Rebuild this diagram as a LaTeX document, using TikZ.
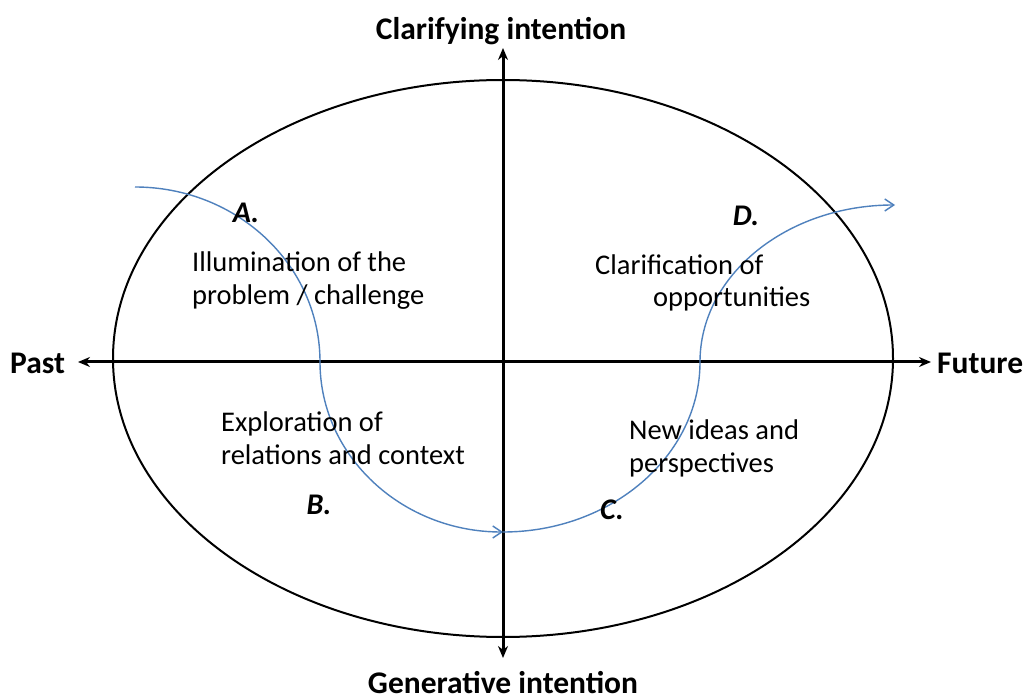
\documentclass[tikz,border=0pt]{standalone}
\usepackage{fontspec}
\setmainfont{Carlito}
\usetikzlibrary{arrows.meta,shapes.geometric}
\begin{document}
\begin{tikzpicture}[x=1pt,y=-1pt,
  axis/.style={line width=3pt,-{Stealth[length=12pt,width=10pt]}},
  flow/.style={draw={rgb,255:red,79;green,129;blue,189},line width=1.4pt,-{Straight Barb[length=9pt,width=12pt,line width=1.4pt]}},
  axlabel/.style={font=\fontsize{31.5}{36}\selectfont\bfseries,inner sep=0pt},
  letter/.style={font=\fontsize{30}{33}\selectfont\bfseries\itshape,inner sep=0pt},
  body/.style={font=\fontsize{28.5}{33}\selectfont,align=left,inner sep=0pt,anchor=base west}]
\useasboundingbox (0,0) rectangle (1026,700);
\fill[white] (0,0) rectangle (1026,700);
% ellipse
\node[draw,line width=2pt,ellipse,minimum width=780pt,minimum height=557pt,inner sep=0pt] (ell) at (503,358.5) {};
% axis endpoints
\coordinate (O) at (503,362);
\coordinate (W) at (78,362);
\coordinate (E) at (931,362);
\coordinate (N) at (503,48);
\coordinate (S) at (503,658);
\draw[axis] (O) -- (W);
\draw[axis] (O) -- (E);
\draw[axis] (O) -- (N);
\draw[axis] (O) -- (S);
% axis labels
\node[axlabel] (lN) at (501,31) {Clarifying intention};
\node[axlabel] (lS) at (503,683) {Generative intention};
\node[axlabel,anchor=west] (lW) at (10,363) {Past};
\node[axlabel,anchor=west] (lE) at (937,363) {Future};
% blue curve
\coordinate (c0) at (135,187);
\coordinate (c1) at (320,362);
\coordinate (c2) at (503,532);
\coordinate (c3) at (700,362);
\coordinate (c4) at (895,205);
\draw[flow] (c0) .. controls (237,187) and (320,265) .. (c1)
  .. controls (320,456) and (402,532) .. (c2);
\draw[flow] (c2) .. controls (611,532) and (700,456) .. (c3)
  .. controls (700,275) and (787,205) .. (c4);
% letters
\node[letter] (A) at (246,213) {A.};
\node[letter] (B) at (319,505) {B.};
\node[letter] (C) at (612,510) {C.};
\node[letter] (D) at (746,216) {D.};
% texts
\node[body] (tA) at (192,305) {Illumination of the\\problem / challenge};
\node[body] (tD1) at (595,275) {Clarification of};
\node[body] (tD2) at (653,307) {opportunities};
\node[body] (tB) at (221,465) {Exploration of\\relations and context};
\node[body] (tC) at (629,473) {New ideas and\\perspectives};
\end{tikzpicture}
\end{document}
